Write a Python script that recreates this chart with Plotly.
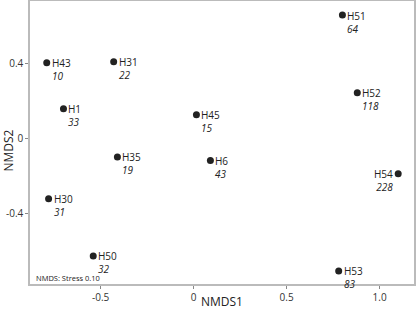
import plotly.graph_objects as go

names = ["H43", "H31", "H1", "H45", "H35", "H30", "H50", "H51", "H52", "H6", "H54", "H53"]
counts = ["10", "22", "33", "15", "19", "31", "32", "64", "118", "43", "228", "83"]
nmds1 = [-0.79, -0.43, -0.70, 0.015, -0.41, -0.78, -0.54, 0.80, 0.88, 0.09, 1.10, 0.78]
nmds2 = [0.405, 0.41, 0.158, 0.126, -0.10, -0.324, -0.63, 0.66, 0.244, -0.119, -0.19, -0.71]
label_left = ["H54"]

x_ticks = [-0.5, 0, 0.5, 1.0]
x_ticklabels = ["-0.5", "0", "0.5", "1.0"]
y_ticks = [-0.4, 0, 0.4]
y_ticklabels = ["-0.4", "0", "0.4"]

fig = go.Figure()
fig.add_trace(go.Scatter(
    x=nmds1, y=nmds2, mode="markers",
    marker=dict(color="#222222", size=7),
    showlegend=False, hoverinfo="skip"))

font = "Open Sans, Lato, sans-serif"
fs = 10
for n, c, x, y in zip(names, counts, nmds1, nmds2):
    left = n in label_left
    anchor = "right" if left else "left"
    sh = -4 if left else 4
    fig.add_annotation(x=x, y=y, text=n + "<br><i>" + c + "</i>", showarrow=False,
                       xanchor=anchor, align=anchor, yanchor="top",
                       xshift=sh, yshift=fs * 0.65 + 1, borderpad=0,
                       font=dict(family=font, size=fs, color="#222222"))

fig.add_annotation(x=0.012, y=0, xref="paper", yref="paper", text="NMDS: Stress 0.10",
                   showarrow=False, xanchor="left", yanchor="middle", yshift=6, borderpad=0,
                   font=dict(family=font, size=7.5, color="#222222"))

# axis titles
fig.add_annotation(x=0.5, y=0, xref="paper", yref="paper", text="NMDS1", showarrow=False,
                   xanchor="center", yanchor="middle", yshift=-17,
                   font=dict(family=font, size=12, color="#222222"))
fig.add_annotation(x=0, y=0.5, xref="paper", yref="paper", text="NMDS2", showarrow=False,
                   xanchor="center", yanchor="middle", xshift=-22, yshift=-8, textangle=-90,
                   font=dict(family=font, size=12, color="#222222"))

fig.update_layout(
    width=416, height=310,
    margin=dict(l=30, r=2, t=1, b=26, autoexpand=False),
    paper_bgcolor="white", plot_bgcolor="white",
    font=dict(family=font, color="#222222"),
    xaxis=dict(range=[-0.88, 1.185], tickvals=x_ticks, ticktext=x_ticklabels, automargin=False,
               showgrid=False, zeroline=False, showline=True, linecolor="#bbbbbb", linewidth=1.5,
               mirror=True, ticks="outside", ticklen=3, tickcolor="#888888",
               tickfont=dict(size=10, color="#333333")),
    yaxis=dict(range=[-0.78, 0.735], tickvals=y_ticks, ticktext=y_ticklabels, automargin=False,
               showgrid=False, zeroline=False, showline=True, linecolor="#bbbbbb", linewidth=1.5,
               mirror=True, ticks="outside", ticklen=3, tickcolor="#888888",
               tickfont=dict(size=10, color="#333333")),
)

fig.write_html("out.html", config={"displayModeBar": False},
               post_script="document.body.style.margin='0';")
